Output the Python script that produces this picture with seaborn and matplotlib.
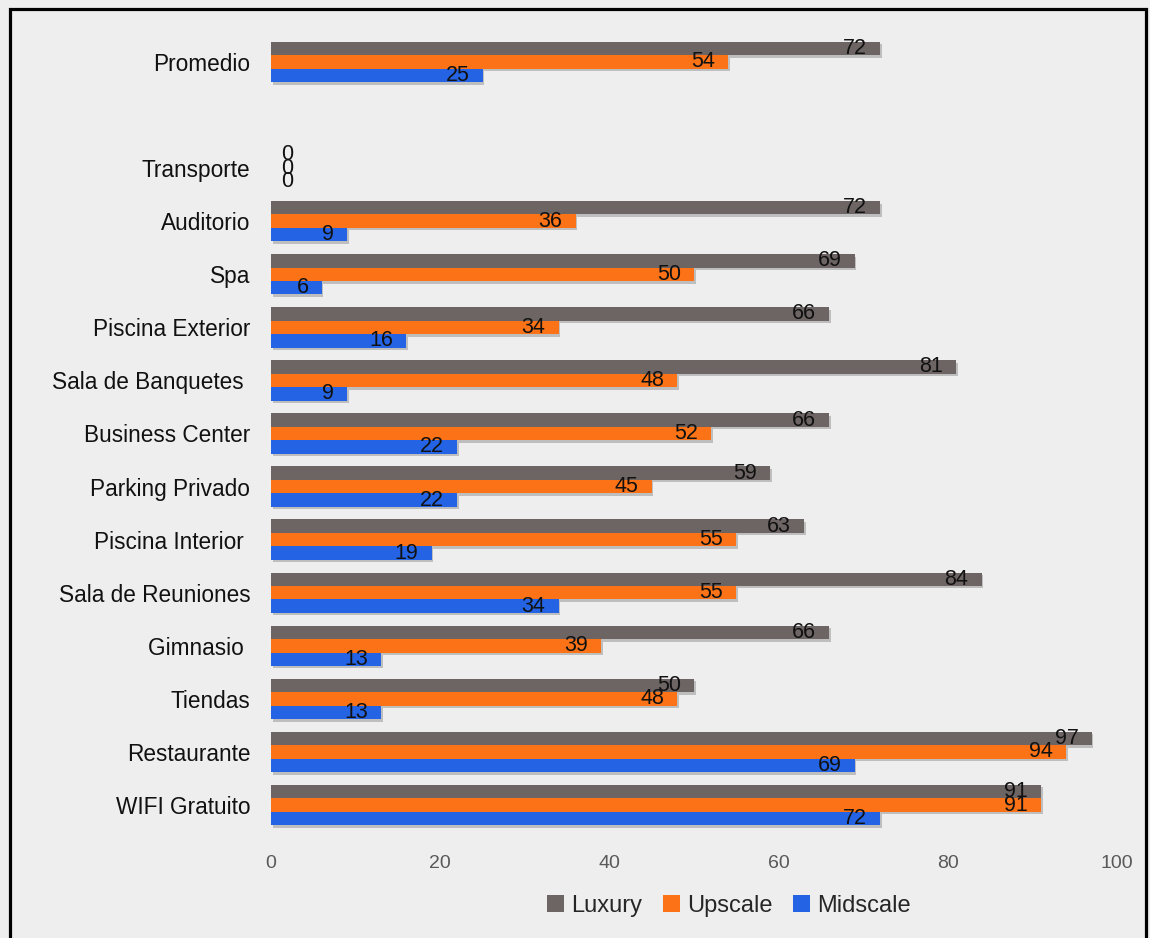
import pandas as pd
import matplotlib.pyplot as plt
import matplotlib.patheffects as pe
from matplotlib.patches import Rectangle
import seaborn as sns

# servicios (de arriba hacia abajo), con hueco en blanco tras "Promedio"
servicios = ["Promedio", " ", "Transporte", "Auditorio", "Spa", "Piscina Exterior",
             "Sala de Banquetes ", "Business Center", "Parking Privado", "Piscina Interior ",
             "Sala de Reuniones", "Gimnasio ", "Tiendas", "Restaurante", "WIFI Gratuito"]
segmentos = ["Luxury", "Upscale", "Midscale"]

luxury = [72, None, 0, 72, 69, 66, 81, 66, 59, 63, 84, 66, 50, 97, 91]
upscale = [54, None, 0, 36, 50, 34, 48, 52, 45, 55, 55, 39, 48, 94, 91]
midscale = [25, None, 0, 9, 6, 16, 9, 22, 22, 19, 34, 13, 13, 69, 72]

colores = ["#6d6464", "#fb7316", "#2464e4"]

rows = []
for seg, vals in zip(segmentos, [luxury, upscale, midscale]):
    for s, v in zip(servicios, vals):
        if v is not None:
            rows.append({"servicio": s, "segmento": seg, "valor": v})
df = pd.DataFrame(rows)

sns.set_theme(style="white")
plt.rcParams['font.family'] = ['Liberation Sans', 'DejaVu Sans']

fondo = "#eeeeee"
fig = plt.figure(figsize=(11.5, 9.38), dpi=100, facecolor=fondo)
ax = fig.add_axes([0.2357, 0.1135, 0.7356, 0.8487])
ax.set_facecolor(fondo)

sns.barplot(data=df, x="valor", y="servicio", hue="segmento", order=servicios,
            hue_order=segmentos, palette=colores, orient="h", width=0.76,
            saturation=1, errorbar=None, linewidth=0, ax=ax)

# sombra suave bajo las barras, como en el original
sombra = [pe.SimplePatchShadow(offset=(1.2, -1.8), shadow_rgbFace="#444444", alpha=0.28), pe.Normal()]
for cont in ax.containers:
    for bar in cont:
        bar.set_path_effects(sombra)
        w = bar.get_width()
        yc = bar.get_y() + bar.get_height() / 2
        if w == 0:
            ax.annotate("0", (0, yc), xytext=(11.5, 0), textcoords="offset points",
                        ha="center", va="center", fontsize=15.5, color="#111111")
        else:
            ax.annotate(f"{w:.0f}", (w, yc), xytext=(-9.5, 0), textcoords="offset points",
                        ha="right", va="center", fontsize=15.5, color="#111111")

ax.set_xlim(0, 100)
ax.set_xticks(range(0, 101, 20))
ax.set_xlabel("")
ax.set_ylabel("")
ax.tick_params(axis="x", length=0, pad=17, labelsize=14, labelcolor="#595959")
ax.tick_params(axis="y", length=0, pad=15, labelsize=16.3, labelcolor="#111111")
sns.despine(ax=ax, left=True, bottom=True)

handles, labels = ax.get_legend_handles_labels()
ax.get_legend().remove()
fig.legend(handles, labels, loc="center", bbox_to_anchor=(729 / 1150, 1 - 906 / 938),
           ncol=3, frameon=False, fontsize=17, handlelength=0.7, handleheight=0.7,
           handletextpad=0.3, columnspacing=0.9)

# marco negro
fig.patches.append(Rectangle((9.5 / 1150, -0.02), (1146 - 9.5) / 1150, 1.02 - 9.5 / 938,
                             transform=fig.transFigure, fill=False, edgecolor="black",
                             linewidth=2.3, clip_on=False))

fig.savefig("out.png", dpi=100, facecolor=fondo)
